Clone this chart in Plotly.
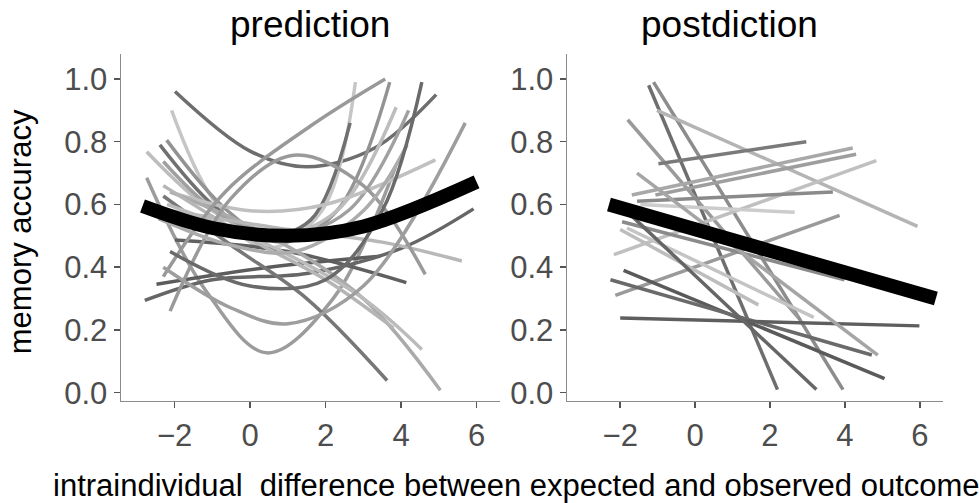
import plotly.graph_objects as go

# ---------------- data ----------------
# prediction panel: per-subject fitted curves (x values, y values)
pred_x = [
    [-1.99, 0.0, 1.5, 3.3, 4.93],
    [-2.08, -1.0, 0.4, 1.9, 2.79],
    [-2.39, -1.0, 0.3, 1.6, 2.65],
    [-2.21, -0.6, 0.8, 2.3, 3.70],
    [-2.74, -1.0, 0.6, 2.3, 3.87],
    [-2.30, -0.8, 0.8, 2.6, 4.20],
    [-2.74, -1.2, 0.44, 2.2, 3.85],
    [-2.12, 0.0, 2.0, 4.91],
    [-1.99, 1.0, 4.14],
    [-2.48, 0.5, 3.45],
    [-2.79, -1.0, 1.5, 4.0, 5.92],
    [-2.30, -0.5, 1.5, 3.63],
    [-2.12, 0.5, 3.0, 5.04],
    [-2.20, 0.5, 3.0, 4.55],
    [-2.30, 0.0, 2.0, 3.80],
    [-2.10, 1.0, 3.5, 5.61],
    [-2.12, -0.5, 1.15, 3.0, 4.64],
    [-2.30, -0.66, 1.6, 3.58],
    [-2.30, -0.5, 1.0, 3.0, 5.70],
    [-2.43, -0.5, 1.2, 3.0, 4.16],
    [-2.12, 0.0, 2.0, 3.5, 4.55],
]
pred_y = [
    [0.96, 0.77, 0.72, 0.78, 0.95],
    [0.90, 0.62, 0.46, 0.58, 0.99],
    [0.79, 0.60, 0.50, 0.55, 0.86],
    [0.805, 0.58, 0.48, 0.58, 0.99],
    [0.768, 0.58, 0.50, 0.58, 0.91],
    [0.737, 0.57, 0.50, 0.58, 0.90],
    [0.685, 0.33, 0.127, 0.30, 0.72],
    [0.64, 0.58, 0.60, 0.742],
    [0.487, 0.45, 0.351],
    [0.346, 0.40, 0.435],
    [0.294, 0.36, 0.38, 0.46, 0.586],
    [0.627, 0.47, 0.30, 0.039],
    [0.64, 0.50, 0.30, 0.008],
    [0.60, 0.47, 0.30, 0.138],
    [0.66, 0.49, 0.36, 0.206],
    [0.58, 0.52, 0.48, 0.42],
    [0.26, 0.62, 0.757, 0.66, 0.377],
    [0.37, 0.64, 0.85, 1.0],
    [0.40, 0.27, 0.22, 0.34, 0.86],
    [0.555, 0.47, 0.45, 0.58, 0.79],
    [0.45, 0.34, 0.36, 0.58, 0.99],
]
pred_fixed_x = [-2.85, -1.0, 1.0, 3.0, 6.0]
pred_fixed_y = [0.595, 0.525, 0.50, 0.53, 0.672]

# postdiction panel: per-subject fitted lines (start and end)
post_x0 = [-1.24, -1.11, -1.02, -1.80, -0.98, -1.69, -1.06, -2.17, -1.55, -1.46,
           -2.13, -1.95, -2.00, -1.82, -1.91, -2.26, -2.00, -1.55, -1.75]
post_y0 = [0.98, 0.99, 0.90, 0.87, 0.73, 0.63, 0.63, 0.44, 0.61, 0.60,
           0.31, 0.545, 0.52, 0.525, 0.39, 0.36, 0.238, 0.70, 0.57]
post_x1 = [2.20, 3.95, 5.94, 2.75, 2.97, 4.21, 4.30, 4.84, 3.68, 2.66,
           3.86, 3.99, 1.69, 3.17, 5.06, 4.72, 5.99, 4.88, 3.24]
post_y1 = [0.01, 0.01, 0.53, 0.24, 0.80, 0.78, 0.76, 0.74, 0.64, 0.575,
           0.565, 0.36, 0.28, 0.24, 0.045, 0.12, 0.213, 0.12, 0.01]
post_fixed_x = [-2.3, 6.43]
post_fixed_y = [0.60, 0.30]

x_ticks = [-2, 0, 2, 4, 6]
y_ticks = [0.0, 0.2, 0.4, 0.6, 0.8, 1.0]

# ---------------- styles ----------------
pred_grey = ["#6e6e6e", "#c6c6c6", "#707070", "#939393", "#bdbdbd", "#a0a0a0",
             "#9c9c9c", "#c0c0c0", "#606060", "#5c5c5c", "#666666", "#777777",
             "#aaaaaa", "#bbbbbb", "#b5b5b5", "#b8b8b8", "#9a9a9a", "#999999",
             "#9e9e9e", "#acacac", "#6a6a6a"]
post_grey = ["#6e6e6e", "#8c8c8c", "#b4b4b4", "#9a9a9a", "#7a7a7a", "#a8a8a8",
             "#9e9e9e", "#c0c0c0", "#8a8a8a", "#cccccc", "#9a9a9a", "#8a8a8a",
             "#bdbdbd", "#c4c4c4", "#5a5a5a", "#6a6a6a", "#5e5e5e", "#a5a5a5",
             "#666666"]

FONT = "Liberation Sans, Arial, Helvetica, sans-serif"
LW = 3.5
fig = go.Figure()

for xs, ys, c in zip(pred_x, pred_y, pred_grey):
    fig.add_trace(go.Scatter(x=xs, y=ys, mode="lines", xaxis="x", yaxis="y",
                             line=dict(color=c, width=LW, shape="spline", smoothing=1.0),
                             showlegend=False, hoverinfo="skip"))
fig.add_trace(go.Scatter(x=pred_fixed_x, y=pred_fixed_y, mode="lines", xaxis="x", yaxis="y",
                         line=dict(color="black", width=14, shape="spline", smoothing=1.0),
                         showlegend=False, hoverinfo="skip"))

for x0, y0, x1, y1, c in zip(post_x0, post_y0, post_x1, post_y1, post_grey):
    fig.add_trace(go.Scatter(x=[x0, x1], y=[y0, y1], mode="lines", xaxis="x2", yaxis="y2",
                             line=dict(color=c, width=LW),
                             showlegend=False, hoverinfo="skip"))
fig.add_trace(go.Scatter(x=post_fixed_x, y=post_fixed_y, mode="lines", xaxis="x2", yaxis="y2",
                         line=dict(color="black", width=14),
                         showlegend=False, hoverinfo="skip"))

xrange = [-3.42, 6.62]
yrange = [-0.026, 1.08]
common_x = dict(range=xrange, tickvals=x_ticks, ticks="outside", ticklen=6, tickwidth=1.5,
                tickcolor="#555555", showline=True, linecolor="#8c8c8c", linewidth=1.5,
                showgrid=False, zeroline=False, tickfont=dict(family=FONT, size=31, color="#4d4d4d"))
common_y = dict(range=yrange, tickvals=y_ticks, tickformat=".1f", ticks="outside", ticklen=6,
                tickwidth=1.5, tickcolor="#555555", showline=True, linecolor="#8c8c8c",
                linewidth=1.5, showgrid=False, zeroline=False,
                tickfont=dict(family=FONT, size=31, color="#4d4d4d"))

ydom = [0.1869, 0.8907]
fig.update_layout(
    width=979, height=503, margin=dict(l=0, r=0, t=0, b=0),
    paper_bgcolor="white", plot_bgcolor="white",
    xaxis=dict(domain=[0.1236, 0.5107], anchor="y", **common_x),
    yaxis=dict(domain=ydom, anchor="x", **common_y),
    xaxis2=dict(domain=[0.5792, 0.9632], anchor="y2", **common_x),
    yaxis2=dict(domain=ydom, anchor="x2", **common_y),
    annotations=[
        dict(text="prediction", x=310 / 979, y=0.950, xref="paper", yref="paper",
             showarrow=False, xanchor="center", yanchor="middle",
             font=dict(family=FONT, size=37, color="black")),
        dict(text="postdiction", x=729 / 979, y=0.950, xref="paper", yref="paper",
             showarrow=False, xanchor="center", yanchor="middle",
             font=dict(family=FONT, size=37, color="black")),
        dict(text="intraindividual  difference between expected and observed outcome",
             x=516 / 979, y=0.016, xref="paper", yref="paper", showarrow=False,
             xanchor="center", yanchor="middle",
             font=dict(family=FONT, size=31, color="black")),
        dict(text="memory accuracy", x=20 / 979, y=0.529, xref="paper", yref="paper",
             showarrow=False, textangle=-90, xanchor="center", yanchor="middle",
             font=dict(family=FONT, size=31, color="black")),
    ],
)

fig.write_html("out.html", config={"displayModeBar": False, "staticPlot": True},
               post_script="document.body.style.margin='0';document.body.style.overflow='hidden';")
